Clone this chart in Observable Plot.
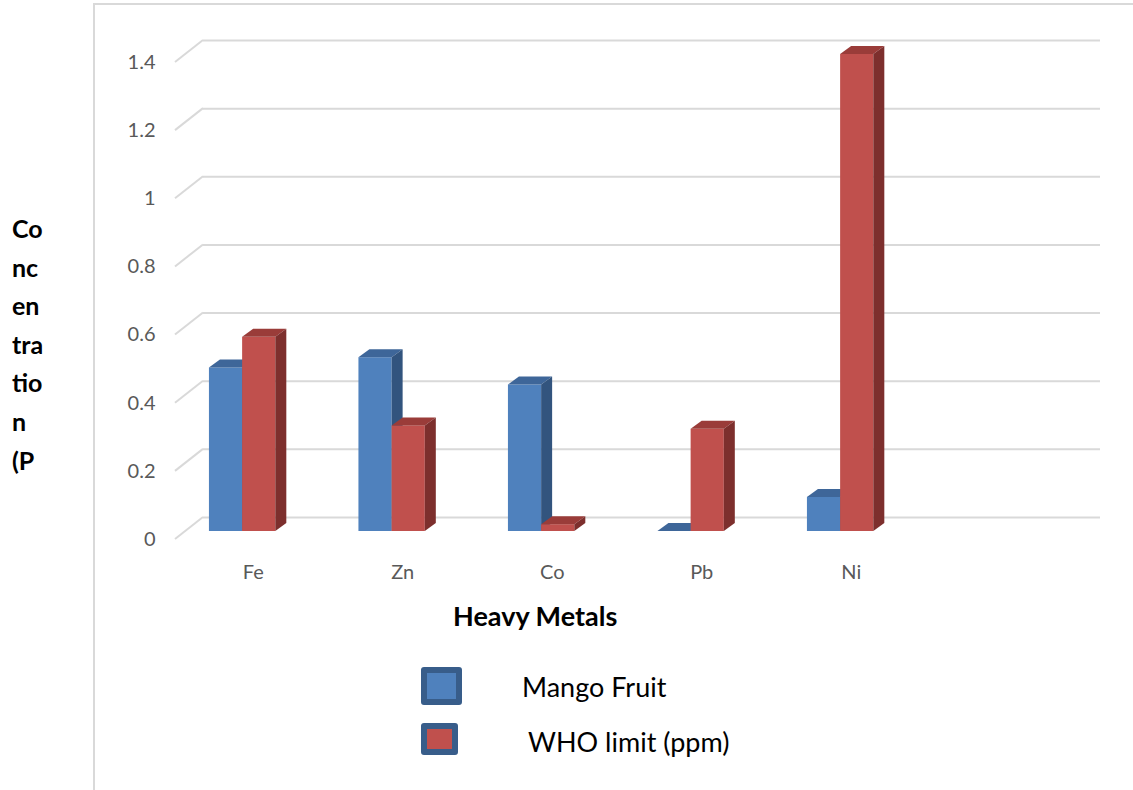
<!DOCTYPE html>
<html>
<head>
<meta charset="utf-8">
<script src="https://cdn.jsdelivr.net/npm/d3@7"></script>
<script src="https://cdn.jsdelivr.net/npm/@observablehq/plot@0.6"></script>
<style>
  html, body { margin: 0; padding: 0; background: #ffffff; }
  #wrap { position: relative; width: 1133px; height: 790px; overflow: hidden; font-family: Lato, "Open Sans", sans-serif; }
  #frame { position: absolute; left: 93px; top: 3px; right: -4px; bottom: -4px; border-left: 2px solid #d9d9d9; border-top: 2px solid #d9d9d9; }
  #chart { position: absolute; left: 0; top: 0; }
  #ylabel { position: absolute; left: 12px; top: 209px; font-weight: bold; font-size: 25px; line-height: 38.6px; color: #000; }
  #xtitle { position: absolute; left: 453px; top: 600px; font-weight: bold; font-size: 27px; line-height: 1.2; color: #000; white-space: nowrap; }
  .swatch { position: absolute; box-sizing: border-box; border: 6px solid #385d8a; border-radius: 3px; }
  .ltext { position: absolute; font-size: 27px; line-height: 1.2; color: #000; white-space: nowrap; }
</style>
</head>
<body>
<div id="wrap">
  <div id="frame"></div>
  <div id="chart"></div>
  <div id="ylabel"></div>
  <div id="xtitle"></div>
  <div id="legend"></div>
</div>
<script>
// ---- data ----
const metals = ["Fe", "Zn", "Co", "Pb", "Ni"];
const mangoFruit = [0.48, 0.51, 0.43, 0.0, 0.10];
const whoLimit = [0.57, 0.31, 0.02, 0.30, 1.40];
const seriesNames = ["Mango Fruit", "WHO limit (ppm)"];
const yTicks = [0, 0.2, 0.4, 0.6, 0.8, 1, 1.2, 1.4];
const yTickLabels = ["0", "0.2", "0.4", "0.6", "0.8", "1", "1.2", "1.4"];
const xTitle = "Heavy Metals";
const yTitleLines = ["Co", "nc", "en", "tra", "tio", "n", "(P"];

// ---- styles ----
const colors = {
  "Mango Fruit": { front: "#4f81bd", top: "#3e6699", side: "#32547e" },
  "WHO limit (ppm)": { front: "#c0504d", top: "#9a3c39", side: "#7d2f2d" }
};
const barOffset = [0.227, 0.449]; // series offset within a category band
const barWidth = 0.222;
const DEPTH_X = 11, DEPTH_Y = -8;     // bar extrusion in px
const WALL_X = 28, WALL_Y = -22;      // back wall offset vs. floor front

const rows = [];
metals.forEach((m, i) => {
  rows.push({ metal: m, i, series: seriesNames[0], s: 0, value: mangoFruit[i] });
  rows.push({ metal: m, i, series: seriesNames[1], s: 1, value: whoLimit[i] });
});

function faces(series) {
  const data = rows.filter(d => d.series === series);
  const c = colors[series];
  return (index, scales) => {
    const g = d3.create("svg:g");
    for (const d of data) {
      const x1 = scales.x(d.i + barOffset[d.s]);
      const x2 = scales.x(d.i + barOffset[d.s] + barWidth);
      const y0 = scales.y(0);
      const yt = scales.y(d.value);
      // top face
      g.append("polygon")
        .attr("points", [[x1, yt], [x2, yt], [x2 + DEPTH_X, yt + DEPTH_Y], [x1 + DEPTH_X, yt + DEPTH_Y]].join(" "))
        .attr("fill", c.top);
      // side face
      g.append("polygon")
        .attr("points", [[x2, yt], [x2 + DEPTH_X, yt + DEPTH_Y], [x2 + DEPTH_X, y0 + DEPTH_Y], [x2, y0]].join(" "))
        .attr("fill", c.side);
    }
    return g.node();
  };
}

function wallDiagonals(index, scales) {
  const g = d3.create("svg:g");
  for (const v of yTicks) {
    const xf = scales.x(0), yf = scales.y(v) + 8;
    g.append("line")
      .attr("x1", xf).attr("y1", yf)
      .attr("x2", xf + WALL_X).attr("y2", yf + WALL_Y)
      .attr("stroke", "#d9d9d9").attr("stroke-width", 2);
  }
  return g.node();
}

function barsFor(series) {
  return Plot.rectY(rows.filter(d => d.series === series), {
    x1: d => d.i + barOffset[d.s],
    x2: d => d.i + barOffset[d.s] + barWidth,
    y1: 0,
    y2: "value",
    fill: colors[series].front
  });
}

const chart = Plot.plot({
  width: 1133,
  height: 790,
  marginLeft: 175,
  marginRight: 61,
  marginTop: 54,
  marginBottom: 259,
  x: { domain: [0, 6], axis: null },
  y: { domain: [0, 1.4], axis: null },
  style: { fontFamily: "Lato, 'Open Sans', sans-serif", background: "transparent", overflow: "visible" },
  marks: [
    Plot.ruleY(yTicks, { y: d => d, x1: 0, x2: 6, dx: WALL_X, dy: -14, stroke: "#d9d9d9", strokeWidth: 2 }),
    wallDiagonals,
    Plot.text(yTicks, { x: 0, y: d => d, text: (d, i) => yTickLabels[i], dx: -20, dy: 8, textAnchor: "end", fill: "#595959", fontSize: 20 }),
    Plot.text(metals, { x: (d, i) => i + 0.5, y: 0, text: d => d, dx: 3, dy: 41, fill: "#595959", fontSize: 20 }),
    barsFor(seriesNames[0]),
    faces(seriesNames[0]),
    barsFor(seriesNames[1]),
    faces(seriesNames[1])
  ]
});
document.getElementById("chart").appendChild(chart);

// axis titles
document.getElementById("ylabel").innerHTML = yTitleLines.map(t => `<div>${t}</div>`).join("");
document.getElementById("xtitle").textContent = xTitle;

// legend
const legend = document.getElementById("legend");
const swatches = [
  { left: 421, top: 667, w: 41, h: 38, textLeft: 522, textTop: 671 },
  { left: 421, top: 723, w: 37, h: 32, textLeft: 528, textTop: 726 }
];
seriesNames.forEach((name, k) => {
  const p = swatches[k];
  const sw = document.createElement("div");
  sw.className = "swatch";
  Object.assign(sw.style, { left: p.left + "px", top: p.top + "px", width: p.w + "px", height: p.h + "px", background: colors[name].front });
  legend.appendChild(sw);
  const t = document.createElement("div");
  t.className = "ltext";
  Object.assign(t.style, { left: p.textLeft + "px", top: p.textTop + "px" });
  t.textContent = name;
  legend.appendChild(t);
});
</script>
</body>
</html>
